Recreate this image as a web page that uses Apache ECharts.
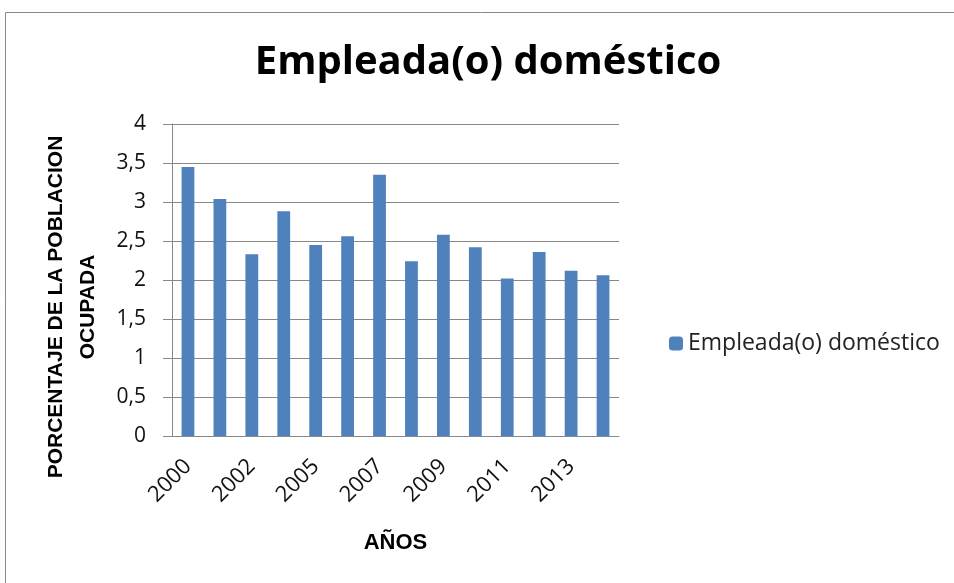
<!DOCTYPE html>
<html>
<head>
<meta charset="utf-8">
<script src="https://cdn.jsdelivr.net/npm/echarts@6/dist/echarts.min.js"></script>
<style>
  html, body { margin: 0; padding: 0; background: #fff; }
  #chart { width: 954px; height: 583px; }
</style>
</head>
<body>
<div id="chart"></div>
<script>
// años (2003 no aparece en la serie)
var years = ['2000', '2001', '2002', '2004', '2005', '2006', '2007',
             '2008', '2009', '2010', '2011', '2012', '2013', '2014'];
// porcentaje de la población ocupada
var empleadaDomestico = [3.45, 3.04, 2.33, 2.88, 2.45, 2.56, 3.35,
                         2.24, 2.58, 2.42, 2.02, 2.36, 2.12, 2.06];
var yTicks = [0, 0.5, 1, 1.5, 2, 2.5, 3, 3.5, 4];

var chart = echarts.init(document.getElementById('chart'));

var fuente = 'Open Sans, Liberation Sans, sans-serif';
var fuenteEje = 'Liberation Sans, Arial, sans-serif';

var option = {
    animation: false,
    // marco exterior del gráfico
    graphic: [{
        type: 'rect',
        shape: { x: 5.5, y: 12.5, width: 960, height: 580 },
        style: { fill: 'none', stroke: '#888', lineWidth: 1 }
    }],
    title: {
        text: 'Empleada(o) doméstico',
        left: 483,
        textAlign: 'center',
        top: 38,
        textStyle: {
            fontFamily: fuente,
            fontSize: 40,
            fontWeight: 'bold',
            color: '#000'
        }
    },
    legend: {
        data: ['Empleada(o) doméstico'],
        orient: 'vertical',
        left: 664,
        top: 327,
        itemWidth: 14,
        itemHeight: 14,
        itemGap: 5,
        textStyle: {
            fontFamily: fuente,
            fontSize: 23,
            color: '#222'
        }
    },
    grid: {
        left: 172,
        right: 335,
        top: 124,
        bottom: 147
    },
    xAxis: {
        type: 'category',
        data: years,
        name: 'AÑOS',
        nameLocation: 'center',
        nameGap: 96,
        nameTextStyle: {
            fontFamily: fuenteEje,
            fontSize: 22,
            fontWeight: 'bold',
            color: '#000'
        },
        axisLine: { lineStyle: { color: '#888', width: 1 } },
        axisTick: { show: false },
        axisLabel: {
            interval: 1,
            rotate: 45,
            margin: 27,
            fontFamily: fuente,
            fontSize: 22,
            color: '#111'
        }
    },
    yAxis: {
        type: 'value',
        min: yTicks[0],
        max: yTicks[yTicks.length - 1],
        interval: 0.5,
        name: 'PORCENTAJE DE LA POBLACION\nOCUPADA',
        nameLocation: 'center',
        nameGap: 68,
        nameRotate: 90,
        nameTextStyle: {
            fontFamily: fuenteEje,
            fontSize: 21,
            fontWeight: 'bold',
            color: '#000',
            lineHeight: 32,
            padding: [0, 54, 0, 0]
        },
        axisLine: { show: true, lineStyle: { color: '#888', width: 1 } },
        axisTick: { show: true, inside: false, length: 9, lineStyle: { color: '#888' } },
        splitLine: { lineStyle: { color: '#888', width: 1 } },
        axisLabel: {
            margin: 26,
            fontFamily: fuente,
            fontSize: 21,
            color: '#111',
            formatter: function (v) {
                return String(v).replace('.', ',');
            }
        }
    },
    series: [{
        name: 'Empleada(o) doméstico',
        type: 'bar',
        barWidth: '40%',
        data: empleadaDomestico,
        itemStyle: { color: '#4f81bd' }
    }]
};

chart.setOption(option);
</script>
</body>
</html>
